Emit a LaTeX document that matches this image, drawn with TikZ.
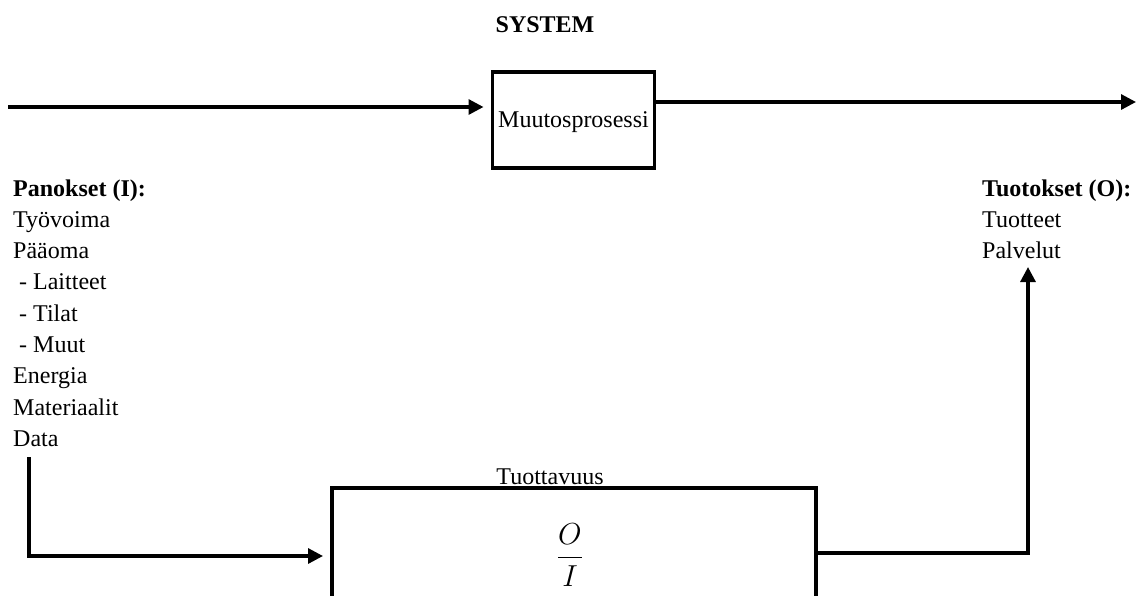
\documentclass[tikz,border=0pt]{standalone}
\usepackage{fontspec}
\setmainfont{Liberation Serif}
\usetikzlibrary{arrows.meta}
\begin{document}
\begin{tikzpicture}[x=1pt,y=-1pt,
  lbl/.style={font=\fontsize{24}{29}\selectfont, inner sep=0pt, anchor=base west},
  box/.style={draw, line width=3.2pt, inner sep=0pt, outer sep=0pt},
  conn/.style={line width=3.2pt},
  arr/.style={conn, -{Triangle[length=15pt,width=15pt]}}]
\useasboundingbox (0,0) rectangle (1136,595);
\clip (0,0) rectangle (1136,595);

% title
\node[lbl, anchor=base] (sys) at (545,32) {\textbf{SYSTEM}};

% transformation process
\node[box, lbl, anchor=center, text depth=0pt, minimum width=162pt, minimum height=96pt] (proc) at (573.5,120) {Muutosprosessi};

\coordinate (inL) at (8,107);
\coordinate (outR) at (1136,102);
\draw[arr, shorten >=9pt] (inL) -- (inL -| proc.west);
\draw[arr] (proc.east |- outR) -- (outR);

% inputs
\foreach \txt [count=\i] in {{\textbf{Panokset (I):}},Työvoima,Pääoma,{\hspace*{6pt}- Laitteet},{\hspace*{6pt}- Tilat},{\hspace*{6pt}- Muut},Energia,Materiaalit,Data}
  \node[lbl] (l\i) at (13,{196+(\i-1)*31.3}) {\txt};

% outputs
\node[lbl] (o1) at (982,196) {\textbf{Tuotokset (O):}};
\node[lbl] (o2) at (982,227.3) {Tuotteet};
\node[lbl] (o3) at (982,258.6) {Palvelut};

% productivity box (cut off at the bottom)
\node[box, anchor=north west, minimum width=484pt, minimum height=200pt] (prod) at (332,488) {};
\node[lbl, anchor=base] (prodl) at (550,484) {Tuottavuus};
\node[lbl, anchor=center] (frac) at (570,555) {\scalebox{1.22}{$\displaystyle\frac{O}{I}$}};

% connectors
\coordinate (d0) at (29,457);
\coordinate (d1) at (29,556);
\draw[arr, shorten >=9pt] (d0) -- (d1) -- (d1 -| prod.west);
\coordinate (oc) at (1028,553);
\draw[arr, shorten >=8pt] (prod.east |- oc) -| (o3.south -| oc);
\end{tikzpicture}
\end{document}
